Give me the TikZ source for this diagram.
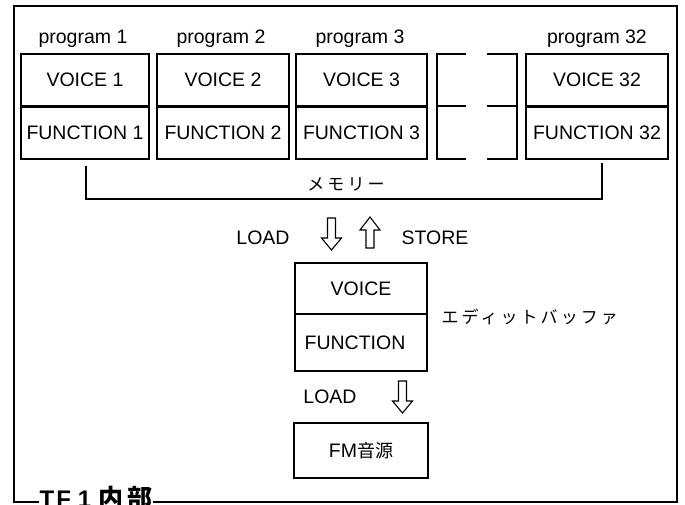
\documentclass[tikz,border=0pt]{standalone}
\usepackage{fontspec}
\setmainfont{Liberation Sans}
\newfontfamily\jp{Noto Sans CJK JP}
\newfontfamily\jpsp[LetterSpace=18]{Noto Sans CJK JP}
\begin{document}
\begin{tikzpicture}[x=1pt,y=-1pt,line width=1.2pt]
\tikzset{
  half/.style={draw, rectangle, minimum height=52pt, inner sep=0pt, font=\fontsize{19.5}{22}\selectfont},
  lbl/.style={inner sep=0pt, font=\fontsize{19.5}{22}\selectfont},
  plbl/.style={inner sep=0pt, anchor=base, font=\fontsize{19.5}{22}\selectfont},
  jplbl/.style={inner sep=0pt, font=\fontsize{17}{20}\jpsp},
  downarr/.pic={\draw[line width=1.1pt] (-4,0) -- (-4,20) -- (-10,20) -- (0,32) -- (10,20) -- (4,20) -- (4,0) -- cycle;},
  uparr/.pic={\draw[line width=1.1pt] (-4,31) -- (-4,13) -- (-10,13) -- (0,0) -- (10,13) -- (4,13) -- (4,31) -- cycle;}
}
\useasboundingbox (0,0) rectangle (685,505);

% outer frame
\node[inner sep=0pt, anchor=base west, font=\bfseries\fontsize{24}{26}\selectfont] (title) at (39,507)
  {T\kern2pt F\kern7pt 1\kern7pt{\jp\fontsize{25}{28}\selectfont 内\kern4pt 部}};
\draw (title.west |- 0,502) -- (14,502) -- (14,6) -- (677,6) -- (677,502) -- (title.east |- 0,502);

% programs
\foreach \n/\xl/\xr/\lab in {1/21/149/1, 2/157/289/2, 3/296/427/3, 32/526/668/32}{
  \node[half, minimum width={(\xr-\xl)*1pt}] (v\n) at ({(\xl+\xr)/2},80) {VOICE \lab};
  \node[half, minimum width={(\xr-\xl)*1pt}] (f\n) at ({(\xl+\xr)/2},133) {FUNCTION \lab};
}
\node[plbl] (p1) at (83,44) {program 1};
\node[plbl] (p2) at (221,44) {program 2};
\node[plbl] (p3) at (360,44) {program 3};
\node[plbl] (p32) at (597,44) {program 32};

% blank box with gaps
\draw (466,54) -- (437,54) -- (437,159) -- (466,159);
\draw (487,54) -- (517,54) -- (517,159) -- (487,159);
\draw (437,106) -- (466,106);
\draw (487,106) -- (517,106);

% memory bracket
\coordinate (mL) at (86,166);
\coordinate (mR) at (602,163);
\draw (mL) -- (86,199) -- (602,199) -- (mR);
\node[jplbl] (mem) at (346,184) {メモリー};

% load / store
\node[lbl] (load1) at (263,238) {LOAD};
\node[lbl] (store) at (435,238) {STORE};
\pic at (331.5,218) {downarr};
\pic at (370,217) {uparr};

% edit buffer
\node[half, minimum width=132pt, minimum height=51pt] (ev) at (361,288.5) {VOICE};
\node[half, minimum width=132pt, minimum height=57pt] (ef) at (361,342.5) {\hspace*{-12pt}FUNCTION};
\node[jplbl, anchor=west] (eb) at (441,317) {エディットバッファ};

% load to FM
\node[lbl] (load2) at (330,397) {LOAD};
\pic at (402.5,381) {downarr};
\node[draw, rectangle, minimum width=134pt, minimum height=55pt, inner sep=0pt, font=\fontsize{19.5}{22}\selectfont] (fm) at (361,450.5) {FM{\fontsize{18}{22}\jp 音源}};
\end{tikzpicture}
\end{document}
